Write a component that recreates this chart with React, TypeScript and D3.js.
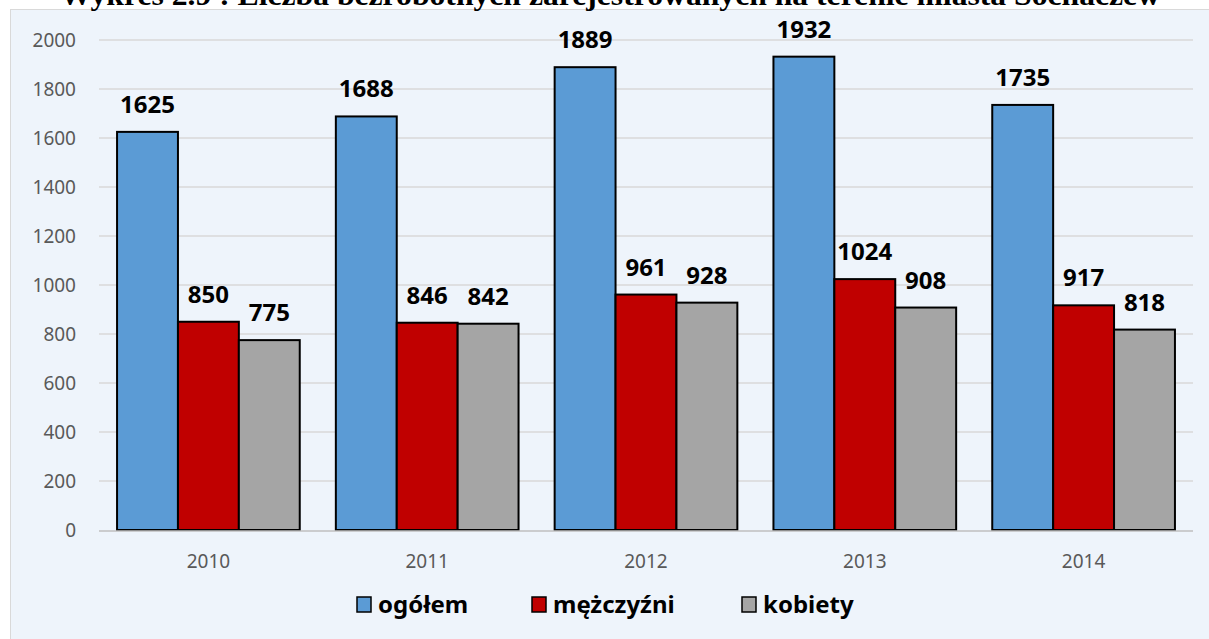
import React from "react";
import * as d3 from "d3";

const years = ["2010", "2011", "2012", "2013", "2014"];
const seriesNames = ["ogółem", "mężczyźni", "kobiety"];
const ogolem = [1625, 1688, 1889, 1932, 1735];
const mezczyzni = [850, 846, 961, 1024, 917];
const kobiety = [775, 842, 928, 908, 818];
const yTicks = [0, 200, 400, 600, 800, 1000, 1200, 1400, 1600, 1800, 2000];
const colors = ["#5B9BD5", "#C00000", "#A5A5A5"];
const title = "Wykres 2.9 : Liczba bezrobotnych zarejestrowanych na terenie miasta Sochaczew";

const W = 1209, H = 639;
const plot = { left: 99, right: 1193, top: 40, bottom: 530 };
const font = "'Noto Sans', 'Open Sans', sans-serif";

export default function App() {
  const values = [ogolem, mezczyzni, kobiety];

  const x0 = d3.scaleBand<string>()
    .domain(years)
    .range([plot.left, plot.right])
    .paddingInner(0.165)
    .paddingOuter(0.0825);
  const x1 = d3.scaleBand<number>()
    .domain([0, 1, 2])
    .range([0, x0.bandwidth()]);
  const y = d3.scaleLinear().domain([0, 2000]).range([plot.bottom, plot.top]);

  // legend layout: square x position of each entry
  const legendX = [357, 532, 742];

  return (
    <svg width={W} height={H} style={{ position: "absolute", left: 0, top: 0, display: "block" }}>
      <rect x={0} y={0} width={W} height={H} fill="#ffffff" />
      <rect x={10.5} y={9.5} width={W} height={H} fill="#EEF4FB" stroke="#D9D9D9" strokeWidth={1} />
      {/* title is clipped by the top edge, as in the source image */}
      <text x={610} y={5} textAnchor="middle" fontFamily="'Liberation Serif', 'Times New Roman', serif"
        fontWeight="bold" fontSize={30} textLength={1100} lengthAdjust="spacingAndGlyphs" fill="#000">{title}</text>

      {/* gridlines and y labels */}
      <g>
        {yTicks.map(t => (
          <g key={t}>
            {t > 0 && <line x1={plot.left} x2={plot.right} y1={y(t)} y2={y(t)} stroke="#D9D9D9" strokeWidth={1.5} />}
            <text x={76} y={y(t)} dy="0.36em" textAnchor="end" fontFamily={font} fontSize={19} fill="#595959">{t}</text>
          </g>
        ))}
      </g>

      {/* bars */}
      {years.map((yr, i) => (
        <g key={yr} transform={`translate(${x0(yr)},0)`}>
          {values.map((vals, s) => (
            <rect key={s} x={x1(s)} y={y(vals[i])} width={x1.bandwidth()} height={y(0) - y(vals[i])}
              fill={colors[s]} stroke="#000" strokeWidth={2} />
          ))}
          {values.map((vals, s) => (
            <text key={"l" + s} x={(x1(s) as number) + x1.bandwidth() / 2} y={y(vals[i]) - 19}
              textAnchor="middle" fontFamily={font} fontWeight="bold" fontSize={24} fill="#000">{vals[i]}</text>
          ))}
        </g>
      ))}

      {/* x axis */}
      <line x1={plot.left} x2={plot.right} y1={plot.bottom + 1} y2={plot.bottom + 1} stroke="#BFBFBF" strokeWidth={1.5} />
      {years.map(yr => (
        <text key={yr} x={(x0(yr) as number) + x0.bandwidth() / 2} y={568} textAnchor="middle"
          fontFamily={font} fontSize={19} fill="#595959">{yr}</text>
      ))}

      {/* legend */}
      {seriesNames.map((name, s) => (
        <g key={name}>
          <rect x={legendX[s]} y={597} width={14} height={15} fill={colors[s]} stroke="#000" strokeWidth={1.5} />
          <text x={legendX[s] + 21} y={613} fontFamily={font} fontWeight="bold" fontSize={24} fill="#000">{name}</text>
        </g>
      ))}
    </svg>
  );
}
